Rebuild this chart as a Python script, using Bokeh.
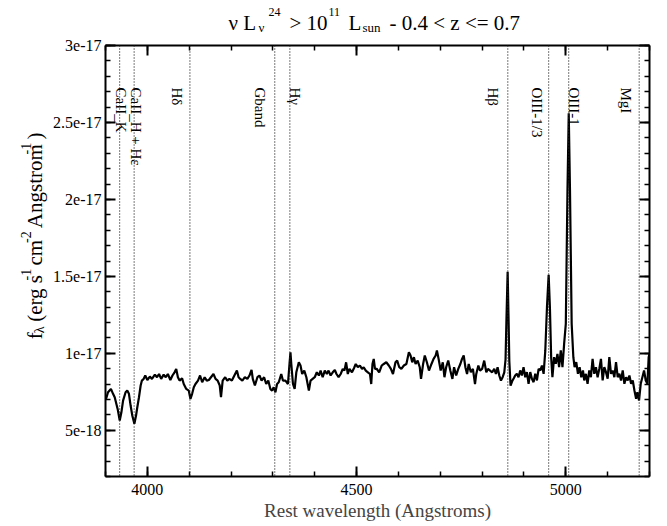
import math
from bokeh.plotting import figure
from bokeh.layouts import row, column
from bokeh.models import Range1d, LinearAxis, FixedTicker, Span, CustomJSTickFormatter
from bokeh.core.properties import value
from bokeh.embed import file_html
from bokeh.resources import INLINE

# ---------------- data ----------------
# rest wavelength (Angstrom)
wavelength = [
    3900, 3902, 3906, 3913, 3918, 3922, 3929, 3934, 3938, 3942, 3948, 3952, 3956, 3960, 3964, 3969,
    3973, 3976, 3980, 3984, 3987, 3991, 3995, 4000, 4006, 4011, 4018, 4023, 4028, 4033, 4039, 4044,
    4049, 4055, 4060, 4065, 4069, 4073, 4077, 4083, 4087, 4093, 4099, 4103, 4107, 4111, 4115, 4121,
    4126, 4131, 4137, 4142, 4147, 4152, 4158, 4163, 4168, 4173, 4176, 4180, 4186, 4191, 4196, 4202,
    4208, 4214, 4218, 4222, 4227, 4233, 4239, 4244, 4249, 4252, 4257, 4263, 4268, 4273, 4279, 4284,
    4289, 4294, 4298, 4302, 4306, 4310, 4314, 4320, 4324, 4330, 4336, 4340, 4342, 4344, 4348, 4352,
    4356, 4362, 4366, 4370, 4375, 4380, 4386, 4390, 4395, 4400, 4405, 4410, 4414, 4419, 4424, 4429,
    4433, 4438, 4443, 4448, 4452, 4457, 4462, 4467, 4471, 4475, 4479, 4483, 4489, 4494, 4498, 4503,
    4508, 4513, 4517, 4522, 4527, 4532, 4535, 4538, 4541, 4544, 4548, 4554, 4560, 4565, 4571, 4577,
    4582, 4587, 4593, 4597, 4602, 4607, 4613, 4619, 4625, 4629, 4633, 4637, 4641, 4646, 4651, 4654,
    4659, 4663, 4668, 4673, 4679, 4684, 4689, 4692, 4696, 4701, 4706, 4710, 4714, 4719, 4724, 4729,
    4733, 4738, 4743, 4748, 4752, 4756, 4760, 4764, 4768, 4773, 4778, 4783, 4786, 4791, 4795, 4800,
    4805, 4810, 4814, 4819, 4824, 4829, 4833, 4837, 4841, 4845, 4849, 4853, 4856, 4858, 4861, 4863,
    4865, 4868, 4872, 4876, 4879, 4883, 4887, 4891, 4895, 4899, 4903, 4907, 4911, 4915, 4919, 4923,
    4927, 4931, 4935, 4939, 4943, 4947, 4951, 4955, 4959, 4962, 4965, 4968, 4972, 4976, 4980, 4984,
    4988, 4992, 4996, 5000, 5004, 5007, 5010, 5014, 5018, 5021, 5025, 5029, 5033, 5037, 5041, 5044,
    5048, 5052, 5056, 5060, 5064, 5068, 5072, 5076, 5080, 5084, 5088, 5092, 5096, 5100, 5104, 5108,
    5112, 5116, 5120, 5124, 5128, 5132, 5136, 5140, 5144, 5148, 5152, 5156, 5160, 5164, 5168, 5171,
    5175, 5179, 5183, 5187, 5191, 5195, 5198, 5200,
]
# f_lambda in units of 1e-18 erg s^-1 cm^-2 A^-1
flux = [
    7.00, 7.10, 7.47, 7.69, 7.37, 7.15, 6.39, 5.63, 6.17, 6.93, 7.47, 7.58, 7.37, 6.61, 5.96, 5.42,
    5.96, 6.50, 7.15, 7.91, 8.23, 8.34, 8.56, 8.27, 8.49, 8.34, 8.62, 8.45, 8.66, 8.34, 8.62, 8.45,
    8.66, 8.27, 8.56, 8.77, 8.99, 8.45, 8.23, 8.38, 8.01, 7.69, 7.58, 7.04, 7.37, 7.80, 8.01, 8.23,
    8.56, 8.12, 8.45, 8.23, 8.27, 8.45, 8.66, 8.34, 8.23, 7.91, 7.15, 8.23, 8.45, 8.23, 8.34, 8.23,
    8.56, 8.88, 8.45, 8.34, 8.23, 8.45, 8.34, 8.56, 8.92, 8.34, 7.91, 8.45, 8.56, 8.23, 8.45, 8.01,
    8.23, 7.69, 7.58, 7.80, 7.47, 8.01, 8.12, 8.66, 8.23, 8.23, 8.01, 9.42, 10.07, 9.31, 8.01, 7.69,
    8.77, 9.42, 9.21, 8.66, 8.88, 8.45, 7.58, 8.23, 8.34, 8.45, 8.77, 8.56, 8.88, 8.45, 8.88, 8.66,
    8.88, 8.56, 8.77, 8.92, 8.66, 8.45, 8.66, 8.99, 8.88, 9.42, 8.66, 8.99, 8.77, 9.05, 9.31, 9.10,
    9.21, 8.99, 9.10, 8.88, 8.77, 8.66, 8.01, 9.31, 9.64, 8.99, 9.00, 8.77, 9.21, 9.31, 9.42, 9.21,
    8.99, 8.66, 9.42, 9.53, 9.10, 8.99, 9.21, 9.31, 10.07, 9.86, 9.42, 9.75, 9.31, 9.53, 9.10, 8.34,
    9.31, 9.86, 9.42, 8.88, 9.31, 9.64, 9.86, 10.18, 9.64, 8.88, 9.42, 8.45, 9.10, 9.53, 8.88, 8.34,
    9.10, 8.56, 8.99, 9.31, 9.64, 9.86, 9.10, 8.66, 9.31, 8.77, 8.99, 8.01, 8.66, 9.21, 8.88, 8.99,
    9.53, 8.77, 8.99, 8.88, 8.77, 8.99, 8.66, 9.10, 8.56, 8.23, 8.45, 8.77, 9.60, 12.00, 15.30, 12.50,
    9.50, 7.90, 8.20, 8.40, 8.56, 8.67, 8.45, 8.89, 8.56, 9.10, 8.45, 8.78, 8.02, 8.78, 8.35, 8.13,
    8.67, 8.24, 8.99, 8.89, 9.21, 8.67, 10.19, 13.00, 15.10, 13.00, 9.75, 8.45, 9.75, 9.32, 9.97, 9.10,
    10.19, 9.10, 10.62, 11.92, 20.58, 25.60, 20.58, 11.92, 9.75, 9.10, 9.43, 8.67, 9.10, 8.45, 8.89, 8.24,
    8.67, 8.02, 8.89, 8.45, 9.64, 8.67, 9.10, 8.45, 8.99, 9.64, 8.24, 9.10, 8.78, 8.35, 9.75, 8.67,
    8.89, 8.45, 9.43, 8.45, 8.67, 8.24, 8.89, 8.02, 8.45, 8.24, 8.56, 8.02, 8.24, 7.59, 7.05, 7.48,
    6.94, 8.02, 8.45, 8.89, 8.24, 8.02, 9.75, 9.97,
]

line_names = ["CaII_K", "CaII_H + H\u03b5", "H\u03b4", "Gband", "H\u03b3",
              "H\u03b2", "OIII-1/3", "OIII-1", "MgI"]
line_wl = [3933.7, 3968.5, 4101.7, 4304.4, 4340.5, 4861.3, 4958.9, 5006.8, 5175.4]

x_major = [4000, 4500, 5000]
x_minor = [3900, 4000, 4100, 4200, 4300, 4400, 4500, 4600, 4700, 4800, 4900, 5000, 5100, 5200]
y_major = [5, 10, 15, 20, 25, 30]
y_tick_labels = ["5e-18", "1e-17", "1.5e-17", "2e-17", "2.5e-17", "3e-17"]
y_minor = [2, 3, 4, 5, 6, 7, 8, 9, 10, 11, 12, 13, 14, 15, 16, 17, 18, 19, 20,
           21, 22, 23, 24, 25, 26, 27, 28, 29, 30]

# ---------------- layout ----------------
FONT = "Liberation Serif"
W, H = 667, 526
YLAB_W = 50          # width of the strip holding the y-axis title
TITLE_H = 35         # height of the strip holding the title
FL, FR, FT, FB = 102, 649, 45, 476   # frame edges on the page
X0, X1, Y0, Y1 = 3900, 5200, 2, 30
MAIN_W = W - YLAB_W
MAIN_H = H - TITLE_H


def blank_fig(w, h):
    f = figure(width=w, height=h, output_backend="svg", toolbar_location=None,
               x_range=Range1d(0, w), y_range=Range1d(h, 0),
               min_border=0, x_axis_type=None, y_axis_type=None)
    f.outline_line_color = None
    f.xgrid.visible = False
    f.ygrid.visible = False
    f.background_fill_color = "white"
    f.border_fill_color = "white"
    return f


p = figure(width=MAIN_W, height=MAIN_H, output_backend="svg", toolbar_location=None,
           x_range=Range1d(X0, X1), y_range=Range1d(Y0, Y1),
           min_border_left=FL - YLAB_W, min_border_right=W - FR,
           min_border_top=FT - TITLE_H, min_border_bottom=H - FB,
           x_axis_type=None, y_axis_type=None)
p.outline_line_color = None
p.background_fill_color = "white"
p.border_fill_color = "white"
p.xgrid.visible = False
p.ygrid.visible = False


def style_axis(ax):
    ax.axis_line_width = 2
    ax.axis_line_color = "black"
    ax.major_tick_in = 10
    ax.major_tick_out = 0
    ax.minor_tick_in = 5
    ax.minor_tick_out = 0
    ax.major_tick_line_width = 2
    ax.minor_tick_line_width = 1.5
    ax.major_tick_line_color = "black"
    ax.minor_tick_line_color = "black"
    ax.major_label_text_font = FONT
    ax.major_label_text_font_size = "16px"
    ax.major_label_text_color = "black"


xt = FixedTicker(ticks=x_major, minor_ticks=x_minor)
yt = FixedTicker(ticks=y_major, minor_ticks=y_minor)
blank = CustomJSTickFormatter(code="return ''")

xb = LinearAxis(ticker=xt)
style_axis(xb)
xb.major_label_standoff = 7
xb.axis_label = "Rest wavelength (Angstroms)"
xb.axis_label_text_font = FONT
xb.axis_label_text_font_style = "normal"
xb.axis_label_text_font_size = "19px"
xb.axis_label_standoff = 2
p.add_layout(xb, "below")

xa = LinearAxis(ticker=xt, formatter=blank)
style_axis(xa)
xa.major_label_standoff = 0
p.add_layout(xa, "above")

yl = LinearAxis(ticker=yt)
style_axis(yl)
yl.major_label_standoff = 4
yl.major_label_overrides = dict(zip(y_major, y_tick_labels))
p.add_layout(yl, "left")

yr = LinearAxis(ticker=yt, formatter=blank)
style_axis(yr)
yr.major_label_standoff = 0
p.add_layout(yr, "right")

# marker lines
for wl in line_wl:
    p.add_layout(Span(location=wl, dimension="height", line_color="#222222",
                      line_width=1.2, line_dash="1 2"))

# spectrum
p.line(wavelength, flux, line_color="black", line_width=2.2)

# line labels (rotated clockwise, beside each marker)
label_top = Y1 - (87 - FT) * (Y1 - Y0) / (FB - FT)
label_dx = [1, 2, -13, -15, 5, -15, -12, 5, -13]
p.text(x=line_wl, y=[label_top] * len(line_wl), text=line_names, angle=-math.pi / 2,
       x_offset=label_dx, text_font=value(FONT), text_font_size="15px",
       text_align="left", text_baseline="alphabetic", text_color="black")

# ---------------- title strip (page pixel coordinates) ----------------
tf = blank_fig(W, TITLE_H)
title_parts = [
    ("\u03bd L", 228, 22.5, 21),
    ("\u03bd", 258, 27, 13),
    ("24", 268, 11.5, 12),
    ("> 10", 289, 22.5, 21),
    ("11", 328, 11.5, 12),
    ("L", 348, 22.5, 21),
    ("sun", 362, 27, 13),
    ("- 0.4 < z <= 0.7", 389, 22.5, 21),
]
for txt, px, py, fs in title_parts:
    tf.text(x=[px], y=[py], text=[txt], text_font=value(FONT),
            text_font_size=f"{fs}px", text_align="left", text_baseline="alphabetic",
            text_color="black")

# ---------------- y-axis title strip ----------------
yf = blank_fig(YLAB_W, MAIN_H)
CW = {" ": .25, "(": .333, ")": .333, "-": .333, "A": .722, "c": .444, "e": .444,
      "f": .333, "g": .5, "m": .778, "n": .5, "o": .5, "r": .333, "s": .389,
      "t": .278, "\u03bb": .55}


def tw(s, fs):
    return sum(CW.get(c, .5) for c in s) * fs


# (text, kind, gap after in em of main font)
ylab_parts = [("f", "m", 0), ("\u03bb", "b", .25), ("(erg s", "m", 0), ("-1", "p", .25),
              ("cm", "m", 0), ("-2", "p", .25), ("Angstrom", "m", 0), ("-1", "p", .25),
              (")", "m", 0)]
size_of = {"m": 21, "b": 14, "p": 14}
base_x = {"m": 34, "b": 39, "p": 25}
total = sum(tw(t, size_of[k]) + g * 21 for t, k, g in ylab_parts)
cur = (FT + FB) / 2 - 8 + total / 2 - TITLE_H
for t, k, g in ylab_parts:
    yf.text(x=[base_x[k]], y=[cur], text=[t], angle=math.pi / 2,
            text_font=value(FONT), text_font_size=f"{size_of[k]}px",
            text_align="left", text_baseline="alphabetic", text_color="black")
    cur -= tw(t, size_of[k]) + g * 21

layout = column(tf, row(yf, p, spacing=0), spacing=0)
open("out.html", "w").write(file_html(layout, INLINE))
